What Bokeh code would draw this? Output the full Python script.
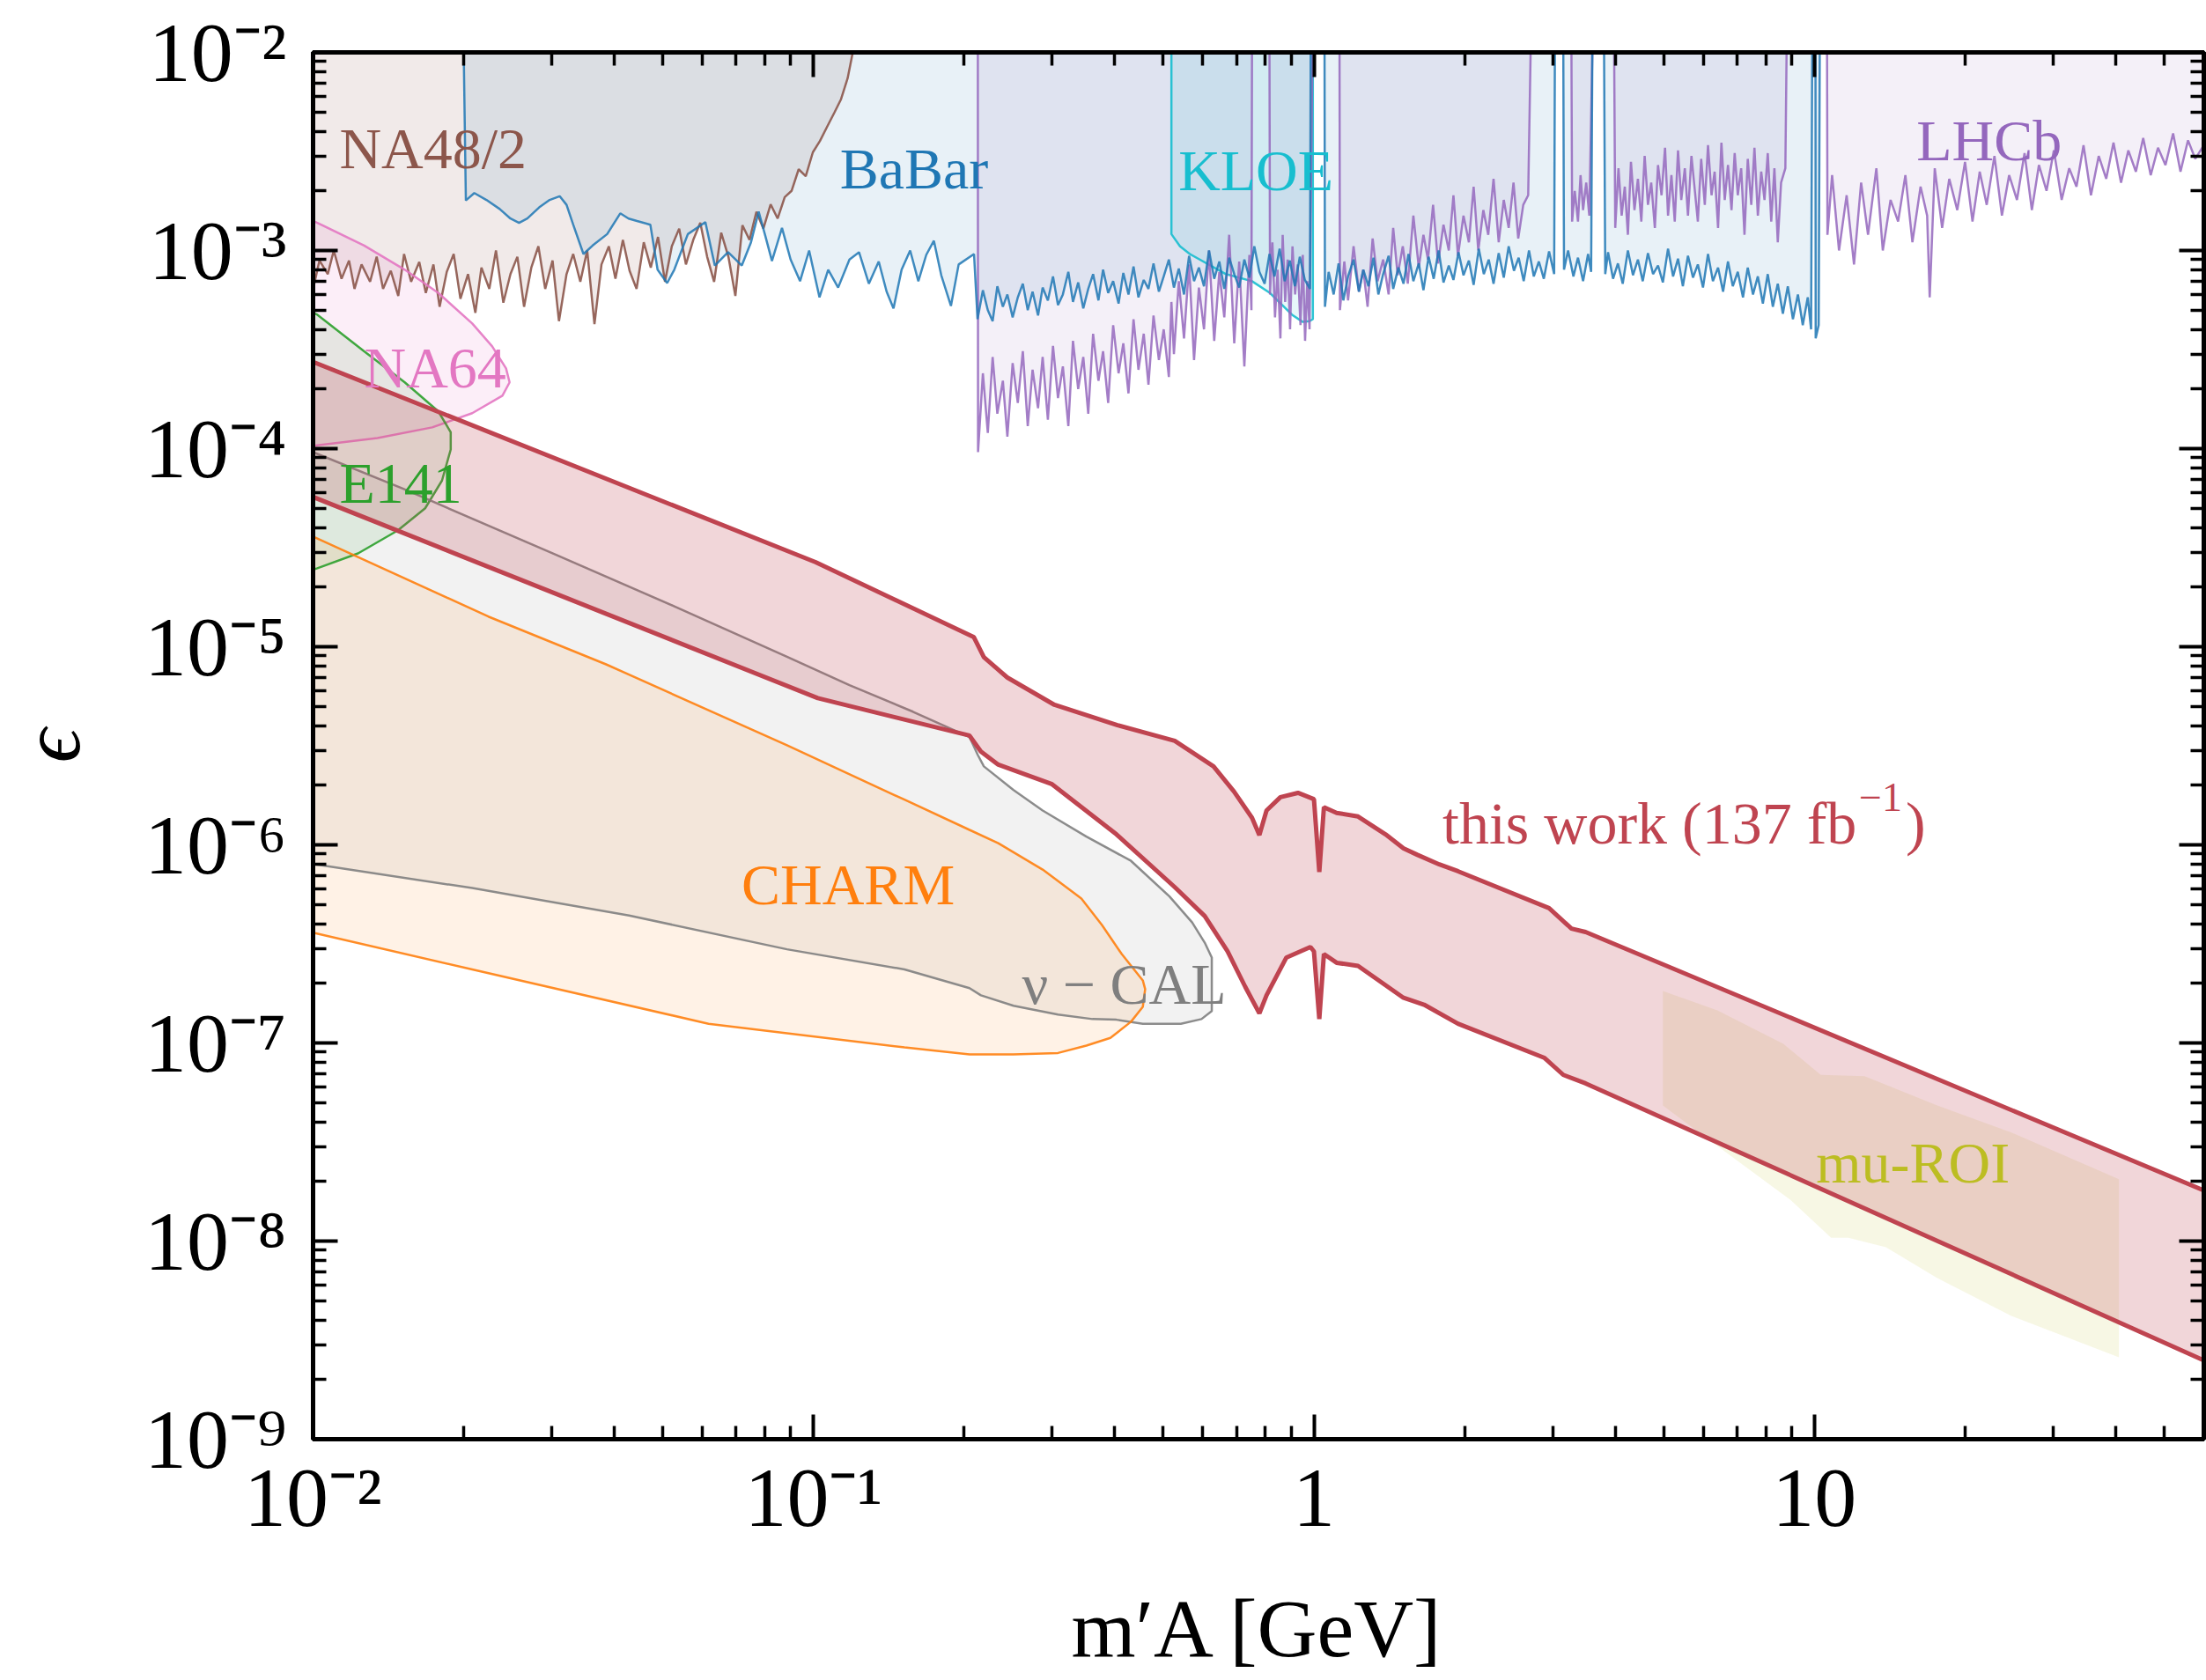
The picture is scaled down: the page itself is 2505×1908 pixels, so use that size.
from bokeh.plotting import figure
from bokeh.models import Range1d, LogAxis, FixedTicker, Label, CustomJSTickFormatter
from bokeh.embed import file_html
from bokeh.resources import INLINE

# ---------------- axis limits & ticks ----------------
X_MIN, X_MAX = 0.01, 60.0
EPS_MIN, EPS_MAX = 1e-9, 1e-2

x_tick_vals = [0.01, 0.1, 1, 10]
x_tick_labels = ["10⁻²", "10⁻¹", "1", "10"]
y_tick_vals = [1e-9, 1e-8, 1e-7, 1e-6, 1e-5, 1e-4, 1e-3, 1e-2]
y_tick_labels = ["10⁻⁹", "10⁻⁸", "10⁻⁷", "10⁻⁶", "10⁻⁵", "10⁻⁴", "10⁻³", "10⁻²"]
x_title = "m′A [GeV]"
y_title = "ϵ"

# ---------------- data (m_A' in GeV, epsilon) ----------------
na48_m = [0.0100, 0.0103, 0.0107, 0.0110, 0.0114, 0.0118, 0.0121, 0.0125, 0.0130, 0.0134,
          0.0138, 0.0143, 0.0148, 0.0152, 0.0157, 0.0163, 0.0168, 0.0174, 0.0179, 0.0185,
          0.0191, 0.0197, 0.0204, 0.0211, 0.0217, 0.0225, 0.0232, 0.0240, 0.0248, 0.0256,
          0.0264, 0.0273, 0.0282, 0.0291, 0.0301, 0.0310, 0.0321, 0.0331, 0.0342, 0.0353,
          0.0365, 0.0377, 0.0390, 0.0402, 0.0416, 0.0429, 0.0443, 0.0458, 0.0473, 0.0489,
          0.0505, 0.0521, 0.0539, 0.0556, 0.0575, 0.0594, 0.0613, 0.0633, 0.0654, 0.0676,
          0.0698, 0.0721, 0.0745, 0.0769, 0.0794, 0.0821, 0.0848, 0.0876, 0.0904, 0.0934,
          0.0965, 0.0997, 0.103, 0.1064, 0.110, 0.1135, 0.117, 0.1198]
na48_eps = [6.4e-4, 8.9e-4, 7.6e-4, 1.0e-3, 7.2e-4, 8.9e-4, 6.4e-4, 8.5e-4, 6.95e-4, 9.3e-4,
            6.4e-4, 7.9e-4, 5.9e-4, 9.6e-4, 6.95e-4, 8.75e-4, 6.1e-4, 8.5e-4, 5.2e-4, 7.8e-4,
            9.6e-4, 5.7e-4, 7.6e-4, 4.85e-4, 8.2e-4, 6.4e-4, 1.0e-3, 5.45e-4, 7.6e-4, 9.3e-4,
            5.2e-4, 8.2e-4, 1.05e-3, 6.4e-4, 8.9e-4, 4.4e-4, 7.6e-4, 9.6e-4, 6.95e-4, 1.0e-3,
            4.25e-4, 8.5e-4, 1.05e-3, 7.2e-4, 1.13e-3, 7.9e-4, 6.4e-4, 1.1e-3, 8.2e-4, 1.17e-3,
            6.95e-4, 1.05e-3, 1.29e-3, 8.5e-4, 1.13e-3, 1.38e-3, 9.3e-4, 6.95e-4, 1.23e-3, 9.3e-4,
            5.9e-4, 1.34e-3, 1.13e-3, 1.57e-3, 1.29e-3, 1.71e-3, 1.45e-3, 1.86e-3, 2.0e-3, 2.57e-3,
            2.37e-3, 3.13e-3, 3.57e-3, 4.2e-3, 4.95e-3, 5.8e-3, 7.4e-3, 1.0e-2]

# BaBar: low-mass part, then four pieces separated by resonance vetoes (curve to top)
babar_m_low = [0.0200, 0.0202, 0.0210, 0.0222, 0.0236, 0.0248, 0.0258, 0.0268, 0.0283, 0.0297,
               0.0311, 0.0321, 0.0331, 0.0347, 0.0362, 0.0387, 0.0411, 0.0427, 0.0444, 0.0472,
               0.0488, 0.0510, 0.0527, 0.0561, 0.0608, 0.0635, 0.0675, 0.0719, 0.0750, 0.0777,
               0.0800, 0.0826, 0.0865, 0.0900, 0.0940, 0.0980, 0.1028, 0.1070, 0.1120, 0.1180,
               0.1233, 0.1290, 0.1350, 0.1400, 0.1445, 0.1500, 0.1560, 0.1620, 0.1680, 0.1740,
               0.1800, 0.1882, 0.1950, 0.2093, 0.2127]
babar_eps_low = [1e-2, 1.79e-3, 1.95e-3, 1.80e-3, 1.62e-3, 1.45e-3, 1.38e-3, 1.45e-3, 1.65e-3, 1.80e-3,
                 1.88e-3, 1.70e-3, 1.35e-3, 9.6e-4, 1.06e-3, 1.21e-3, 1.54e-3, 1.45e-3, 1.41e-3, 1.35e-3,
                 8.0e-4, 6.85e-4, 8.0e-4, 1.21e-3, 1.39e-3, 8.4e-4, 9.8e-4, 8.4e-4, 1.1e-3, 1.57e-3,
                 1.2e-3, 8.85e-4, 1.3e-3, 9.0e-4, 7.0e-4, 1.0e-3, 5.8e-4, 8.0e-4, 6.5e-4, 9.0e-4,
                 9.8e-4, 6.8e-4, 8.8e-4, 6.2e-4, 5.1e-4, 8.0e-4, 1.0e-3, 7.0e-4, 9.5e-4, 1.12e-3,
                 7.5e-4, 5.25e-4, 8.5e-4, 9.6e-4, 4.5e-4]
babar_m_a = [0.218, 0.223, 0.228, 0.233, 0.239, 0.244, 0.250, 0.256, 0.262, 0.268,
             0.274, 0.281, 0.287, 0.294, 0.301, 0.308, 0.315, 0.323, 0.330, 0.338,
             0.346, 0.354, 0.362, 0.371, 0.379, 0.388, 0.397, 0.407, 0.416, 0.426,
             0.436, 0.446, 0.457, 0.467, 0.478, 0.490, 0.501, 0.513, 0.525, 0.537,
             0.550, 0.563, 0.576, 0.589, 0.603, 0.617, 0.632, 0.647, 0.662, 0.677,
             0.693, 0.709, 0.726, 0.743, 0.760, 0.778, 0.797, 0.815, 0.834, 0.854,
             0.874, 0.895, 0.916, 0.937, 0.959, 0.982]
babar_eps_a = [6.3e-4, 5.0e-4, 4.4e-4, 6.6e-4, 5.2e-4, 6.0e-4, 4.6e-4, 5.8e-4, 6.8e-4, 5.0e-4,
               6.2e-4, 4.7e-4, 6.5e-4, 5.6e-4, 7.4e-4, 5.3e-4, 6.0e-4, 7.8e-4, 5.5e-4, 6.9e-4,
               5.1e-4, 6.4e-4, 7.6e-4, 5.6e-4, 8.0e-4, 6.1e-4, 7.0e-4, 5.4e-4, 7.7e-4, 6.0e-4,
               8.3e-4, 5.8e-4, 7.1e-4, 6.4e-4, 8.6e-4, 6.2e-4, 7.4e-4, 9.0e-4, 6.5e-4, 8.1e-4,
               6.0e-4, 9.4e-4, 7.0e-4, 8.2e-4, 6.6e-4, 1.0e-3, 7.2e-4, 8.8e-4, 6.4e-4, 9.2e-4,
               7.6e-4, 6.5e-4, 9.0e-4, 7.3e-4, 1.05e-3, 7.8e-4, 6.8e-4, 9.6e-4, 7.4e-4, 1.02e-3,
               7.0e-4, 8.9e-4, 6.6e-4, 9.3e-4, 7.1e-4, 6.4e-4]
babar_m_veto1 = [0.985, 1.05, 1.052]
babar_eps_veto1 = [1e-2, 1e-2, 5.2e-4]
babar_m_b = [1.07, 1.095, 1.12, 1.145, 1.17, 1.20, 1.23, 1.255, 1.285, 1.315,
             1.345, 1.375, 1.41, 1.44, 1.475, 1.51, 1.545, 1.58, 1.62, 1.655,
             1.695, 1.735, 1.775, 1.815, 1.86, 1.90, 1.945, 1.99, 2.04, 2.085,
             2.135, 2.185, 2.235, 2.285, 2.34, 2.395, 2.45, 2.51, 2.565, 2.625,
             2.69, 2.75, 2.815, 2.88, 2.95, 3.02]
babar_eps_b = [7.8e-4, 6.0e-4, 8.6e-4, 5.6e-4, 7.4e-4, 9.0e-4, 6.2e-4, 8.0e-4, 6.6e-4, 9.2e-4,
               6.0e-4, 7.6e-4, 9.4e-4, 6.4e-4, 8.2e-4, 6.8e-4, 9.6e-4, 7.0e-4, 8.6e-4, 6.3e-4,
               9.3e-4, 7.2e-4, 1.0e-3, 6.9e-4, 8.4e-4, 7.1e-4, 9.8e-4, 7.5e-4, 8.9e-4, 6.7e-4,
               1.02e-3, 7.6e-4, 9.0e-4, 6.8e-4, 9.7e-4, 7.3e-4, 1.05e-3, 7.9e-4, 9.2e-4, 7.0e-4,
               1.0e-3, 7.4e-4, 8.8e-4, 7.2e-4, 9.9e-4, 7.6e-4]
babar_m_veto2 = [3.03, 3.15, 3.16]
babar_eps_veto2 = [1e-2, 1e-2, 8.0e-4]
babar_m_c = [3.22, 3.30, 3.37, 3.45, 3.53, 3.58]
babar_eps_c = [1.0e-3, 7.4e-4, 9.2e-4, 7.0e-4, 9.6e-4, 7.8e-4]
babar_m_veto3 = [3.60, 3.80, 3.82]
babar_eps_veto3 = [1e-2, 1e-2, 7.6e-4]
babar_m_d = [3.87, 3.96, 4.05, 4.14, 4.24, 4.34, 4.44, 4.54, 4.65, 4.76,
             4.87, 4.98, 5.10, 5.22, 5.34, 5.46, 5.59, 5.72, 5.85, 5.99,
             6.13, 6.27, 6.42, 6.57, 6.72, 6.87, 7.03, 7.20, 7.36, 7.54,
             7.71, 7.89, 8.07, 8.26, 8.45, 8.65, 8.85, 9.06, 9.27, 9.48,
             9.70, 9.85]
babar_eps_d = [9.8e-4, 7.2e-4, 8.6e-4, 6.8e-4, 1.0e-3, 7.5e-4, 9.0e-4, 7.0e-4, 9.7e-4, 7.6e-4,
               8.4e-4, 6.9e-4, 1.02e-3, 7.4e-4, 9.1e-4, 6.6e-4, 9.4e-4, 7.3e-4, 8.5e-4, 6.5e-4,
               9.6e-4, 7.0e-4, 8.2e-4, 6.2e-4, 8.8e-4, 6.6e-4, 7.8e-4, 5.8e-4, 8.2e-4, 6.0e-4,
               7.4e-4, 5.4e-4, 7.6e-4, 5.2e-4, 6.8e-4, 4.8e-4, 6.6e-4, 4.5e-4, 6.0e-4, 4.2e-4,
               5.8e-4, 4.0e-4]
babar_m_end = [9.90, 10.05, 10.06, 10.2, 10.25]
babar_eps_end = [1e-2, 1e-2, 3.6e-4, 4.2e-4, 1e-2]

# LHCb: pieces separated by vetoes (curve to top)
lhcb_m_start = [0.213, 0.2132]
lhcb_eps_start = [1e-2, 9.6e-5]
lhcb_m_a = [0.218, 0.223, 0.228, 0.233, 0.239, 0.244, 0.250, 0.256, 0.262, 0.268,
            0.274, 0.281, 0.287, 0.294, 0.301, 0.308, 0.315, 0.323, 0.330, 0.338,
            0.346, 0.354, 0.362, 0.371, 0.379, 0.388, 0.397, 0.407, 0.416, 0.426,
            0.436, 0.446, 0.457, 0.467, 0.478, 0.490, 0.501, 0.513, 0.519, 0.525,
            0.537, 0.550, 0.563, 0.576, 0.589, 0.603, 0.617, 0.632, 0.647, 0.662,
            0.677, 0.693, 0.709, 0.726, 0.743, 0.750]
lhcb_eps_a = [2.4e-4, 1.2e-4, 2.9e-4, 1.5e-4, 2.2e-4, 1.15e-4, 2.7e-4, 1.7e-4, 3.1e-4, 1.3e-4,
              2.5e-4, 1.6e-4, 2.9e-4, 1.4e-4, 3.3e-4, 1.8e-4, 2.6e-4, 1.3e-4, 3.5e-4, 2.0e-4,
              2.9e-4, 1.5e-4, 3.8e-4, 2.2e-4, 3.1e-4, 1.7e-4, 4.2e-4, 2.4e-4, 3.4e-4, 1.9e-4,
              4.5e-4, 2.5e-4, 3.8e-4, 2.1e-4, 4.7e-4, 2.8e-4, 4.0e-4, 2.3e-4, 5.5e-4, 3.0e-4,
              7.0e-4, 3.6e-4, 8.5e-4, 2.8e-4, 6.5e-4, 4.0e-4, 1.0e-3, 3.5e-4, 7.8e-4, 4.6e-4,
              1.2e-3, 3.4e-4, 8.8e-4, 2.6e-4, 9.5e-4, 5.0e-4]
lhcb_m_veto1 = [0.752, 0.815, 0.817]
lhcb_eps_veto1 = [1e-2, 1e-2, 6.0e-4]
lhcb_m_b = [0.826, 0.836, 0.846, 0.857, 0.866, 0.876, 0.886, 0.896, 0.906, 0.917,
            0.928, 0.94, 0.95, 0.96, 0.97, 0.98]
lhcb_eps_b = [1.1e-3, 4.6e-4, 8.0e-4, 3.6e-4, 1.2e-3, 5.5e-4, 9.0e-4, 4.0e-4, 1.05e-3, 6.0e-4,
              8.5e-4, 4.2e-4, 9.5e-4, 3.5e-4, 7.0e-4, 4.0e-4]
lhcb_m_veto2 = [0.993, 1.125, 1.127]
lhcb_eps_veto2 = [1e-2, 1e-2, 5.0e-4]
lhcb_m_c = [1.15, 1.17, 1.20, 1.23, 1.255, 1.28, 1.31, 1.34, 1.375, 1.41,
            1.44, 1.47, 1.505, 1.54, 1.58, 1.62, 1.655, 1.69, 1.73, 1.77,
            1.815, 1.86, 1.90, 1.94, 1.99, 2.04, 2.085, 2.13, 2.18, 2.23,
            2.285, 2.34, 2.395, 2.45, 2.505, 2.56, 2.62, 2.68]
lhcb_eps_c = [8.8e-4, 5.6e-4, 1.05e-3, 6.2e-4, 8.0e-4, 5.2e-4, 1.15e-3, 7.0e-4, 9.0e-4, 6.0e-4,
              1.3e-3, 7.5e-4, 1.05e-3, 6.8e-4, 1.5e-3, 8.2e-4, 1.2e-3, 9.0e-4, 1.7e-3, 8.6e-4,
              1.35e-3, 1.0e-3, 1.9e-3, 9.4e-4, 1.5e-3, 1.1e-3, 2.1e-3, 1.0e-3, 1.6e-3, 1.2e-3,
              2.3e-3, 1.1e-3, 1.8e-3, 1.3e-3, 2.2e-3, 1.15e-3, 1.7e-3, 1.9e-3]
lhcb_m_veto3 = [2.71, 3.27, 3.28]
lhcb_eps_veto3 = [1e-2, 1e-2, 1.4e-3]
lhcb_m_d = [3.32, 3.37, 3.41, 3.45, 3.50, 3.55]
lhcb_eps_d = [2.0e-3, 1.4e-3, 2.4e-3, 1.6e-3, 2.2e-3, 1.5e-3]
lhcb_m_veto4 = [3.60, 3.98, 4.00]
lhcb_eps_veto4 = [1e-2, 1e-2, 1.3e-3]
lhcb_m_e = [4.06, 4.12, 4.18, 4.24, 4.30, 4.37, 4.44, 4.51, 4.58, 4.65,
            4.72, 4.80, 4.87, 4.95, 5.03, 5.10, 5.18, 5.26, 5.34, 5.42,
            5.51, 5.59, 5.68, 5.77, 5.85, 5.94, 6.04, 6.13, 6.23, 6.32,
            6.42, 6.52, 6.62, 6.72, 6.83, 6.93, 7.03, 7.14, 7.25, 7.36,
            7.48, 7.59, 7.71, 7.83, 7.95, 8.07, 8.20, 8.32, 8.45, 8.58,
            8.75]
lhcb_eps_e = [2.6e-3, 1.5e-3, 2.1e-3, 1.2e-3, 2.8e-3, 1.6e-3, 2.3e-3, 1.4e-3, 3.0e-3, 1.7e-3,
              2.2e-3, 1.3e-3, 2.7e-3, 1.9e-3, 3.3e-3, 1.5e-3, 2.4e-3, 1.4e-3, 3.2e-3, 1.8e-3,
              2.6e-3, 1.5e-3, 3.0e-3, 2.0e-3, 1.4e-3, 2.9e-3, 1.7e-3, 3.4e-3, 1.9e-3, 2.5e-3,
              1.3e-3, 3.5e-3, 1.8e-3, 2.7e-3, 1.6e-3, 3.1e-3, 1.9e-3, 2.6e-3, 1.2e-3, 2.9e-3,
              1.7e-3, 3.3e-3, 1.5e-3, 2.5e-3, 1.8e-3, 3.1e-3, 1.4e-3, 2.6e-3, 1.1e-3, 2.2e-3,
              2.6e-3]
lhcb_m_veto5 = [8.80, 10.6, 10.62]
lhcb_eps_veto5 = [1e-2, 1e-2, 1.2e-3]
lhcb_m_f = [10.85, 11.2, 11.6, 12.0, 12.4, 12.8, 13.3, 13.7, 14.2, 14.7,
            15.2, 15.7, 16.3, 16.8, 17.0, 17.4, 18.0, 18.6, 19.3, 20.0,
            20.7, 21.4, 22.1, 22.9, 23.7, 24.5, 25.4, 26.3, 27.2, 28.1,
            29.1, 30.1, 31.2, 32.3, 33.4, 34.5, 35.7, 37.0, 38.3, 39.6,
            41.0, 42.4, 43.9, 45.4, 47.0, 48.6, 50.3, 52.1, 53.9, 55.8,
            57.7, 60.0]
lhcb_eps_f = [2.4e-3, 1.0e-3, 1.9e-3, 8.5e-4, 2.2e-3, 1.2e-3, 2.6e-3, 1.0e-3, 1.8e-3, 1.4e-3,
              2.4e-3, 1.1e-3, 2.1e-3, 1.5e-3, 5.8e-4, 2.6e-3, 1.3e-3, 2.3e-3, 1.6e-3, 2.8e-3,
              1.4e-3, 2.5e-3, 1.7e-3, 3.0e-3, 1.5e-3, 2.4e-3, 1.8e-3, 3.1e-3, 1.6e-3, 2.7e-3,
              2.0e-3, 3.2e-3, 1.8e-3, 2.6e-3, 2.1e-3, 3.4e-3, 1.9e-3, 3.0e-3, 2.3e-3, 3.5e-3,
              2.2e-3, 3.2e-3, 2.5e-3, 3.7e-3, 2.4e-3, 3.3e-3, 2.7e-3, 3.9e-3, 2.5e-3, 3.6e-3,
              2.9e-3, 3.4e-3]

kloe_m = [0.519, 0.519, 0.540, 0.565, 0.667, 0.752, 0.817, 0.904, 0.95, 0.98, 0.995, 0.995]
kloe_eps = [1e-2, 1.21e-3, 1.05e-3, 9.6e-4, 7.6e-4, 7.0e-4, 6.1e-4, 4.74e-4, 4.36e-4, 4.4e-4, 4.5e-4, 1e-2]

na64_m = [0.0100, 0.0102, 0.01265, 0.01525, 0.0178, 0.0208, 0.0228, 0.0243, 0.0247, 0.0239,
          0.0208, 0.0173, 0.01345, 0.0102, 0.0100]
na64_eps = [1.41e-3, 1.38e-3, 1.06e-3, 8.0e-4, 6.1e-4, 4.28e-4, 3.28e-4, 2.54e-4, 2.16e-4, 1.85e-4,
            1.51e-4, 1.28e-4, 1.13e-4, 1.04e-4, 1.03e-4]

e141_m = [0.0100, 0.0102, 0.01265, 0.01525, 0.0178, 0.01884, 0.01884, 0.0181, 0.01675, 0.01476,
          0.0123, 0.0102, 0.0100]
e141_eps = [4.85e-4, 4.74e-4, 3.1e-4, 2.16e-4, 1.54e-4, 1.21e-4, 9.9e-5, 6.9e-5, 5.0e-5, 3.86e-5,
            2.96e-5, 2.49e-5, 2.45e-5]

nucal_m = [0.0100, 0.0153, 0.0301, 0.0527, 0.0885, 0.118, 0.158, 0.205, 0.213, 0.219,
           0.251, 0.287, 0.351, 0.431, 0.514, 0.571, 0.605, 0.625, 0.625, 0.596,
           0.542, 0.455, 0.403, 0.361, 0.308, 0.251, 0.216, 0.205, 0.152, 0.0885,
           0.0428, 0.0208, 0.0100]
nucal_eps = [9.6e-5, 6.2e-5, 2.96e-5, 1.6e-5, 8.9e-6, 6.4e-6, 4.7e-6, 3.5e-6, 2.84e-6, 2.49e-6,
             1.89e-6, 1.49e-6, 1.1e-6, 8.3e-7, 5.5e-7, 4.06e-7, 3.21e-7, 2.7e-7, 1.45e-7, 1.32e-7,
             1.25e-7, 1.25e-7, 1.31e-7, 1.32e-7, 1.39e-7, 1.54e-7, 1.74e-7, 1.89e-7, 2.35e-7, 2.97e-7,
             4.4e-7, 6.05e-7, 8.0e-7]

charm_m = [0.0100, 0.0224, 0.0385, 0.0885, 0.152, 0.205, 0.234, 0.287, 0.343, 0.377,
           0.413, 0.455, 0.460, 0.455, 0.431, 0.392, 0.351, 0.308, 0.251, 0.205,
           0.152, 0.0617, 0.0208, 0.0100]
charm_eps = [3.6e-5, 1.42e-5, 8.15e-6, 3.18e-6, 1.69e-6, 1.19e-6, 1.02e-6, 7.5e-7, 5.36e-7, 3.94e-7,
             2.81e-7, 2.07e-7, 1.87e-7, 1.52e-7, 1.28e-7, 1.06e-7, 9.7e-8, 8.9e-8, 8.75e-8, 8.75e-8,
             9.5e-8, 1.25e-7, 2.35e-7, 3.6e-7]

muroi_m = [4.98, 6.4, 8.67, 10.3, 12.6, 17.6, 24.7, 40.6, 40.6, 24.7,
           17.6, 13.9, 11.7, 10.8, 8.97, 6.4, 4.98]
muroi_eps = [1.83e-7, 1.46e-7, 9.9e-8, 6.9e-8, 6.8e-8, 4.83e-8, 3.54e-8, 2.05e-8, 2.59e-9, 4.2e-9,
             6.5e-9, 9.3e-9, 1.04e-8, 1.04e-8, 1.61e-8, 3.02e-8, 4.83e-8]

work_upper_m = [0.01, 0.101, 0.209, 0.219, 0.244, 0.303, 0.405, 0.527, 0.63, 0.692,
                0.752, 0.778, 0.804, 0.857, 0.929, 1.0, 1.025, 1.047, 1.11, 1.225,
                1.39, 1.51, 1.61, 1.78, 1.94, 2.95, 3.27, 3.49, 60.0]
work_upper_eps = [2.74e-4, 2.67e-5, 1.12e-5, 8.85e-6, 6.99e-6, 5.09e-6, 4.02e-6, 3.35e-6, 2.49e-6, 1.86e-6,
                  1.37e-6, 1.12e-6, 1.49e-6, 1.74e-6, 1.83e-6, 1.70e-6, 7.3e-7, 1.55e-6, 1.45e-6, 1.39e-6,
                  1.13e-6, 9.6e-7, 8.9e-7, 7.97e-7, 7.36e-7, 4.79e-7, 3.78e-7, 3.63e-7, 1.8e-8]
work_lower_m = [0.01, 0.102, 0.205, 0.216, 0.234, 0.299, 0.403, 0.527, 0.605, 0.672,
                0.729, 0.778, 0.804, 0.881, 0.984, 1.0, 1.025, 1.047, 1.11, 1.225,
                1.51, 1.66, 1.94, 2.89, 3.15, 3.49, 60.0]
work_lower_eps = [5.7e-5, 5.5e-6, 3.56e-6, 2.96e-6, 2.54e-6, 2.03e-6, 1.13e-6, 6.12e-7, 4.37e-7, 2.9e-7,
                  1.92e-7, 1.41e-7, 1.74e-7, 2.7e-7, 3.05e-7, 2.9e-7, 1.32e-7, 2.81e-7, 2.54e-7, 2.45e-7,
                  1.69e-7, 1.56e-7, 1.25e-7, 8.4e-8, 6.9e-8, 6.25e-8, 2.5e-9]

babar_m = (babar_m_low + babar_m_a + babar_m_veto1 + babar_m_b + babar_m_veto2 + babar_m_c
           + babar_m_veto3 + babar_m_d + babar_m_end)
babar_eps = (babar_eps_low + babar_eps_a + babar_eps_veto1 + babar_eps_b + babar_eps_veto2 + babar_eps_c
             + babar_eps_veto3 + babar_eps_d + babar_eps_end)
lhcb_m = (lhcb_m_start + lhcb_m_a + lhcb_m_veto1 + lhcb_m_b + lhcb_m_veto2 + lhcb_m_c + lhcb_m_veto3
          + lhcb_m_d + lhcb_m_veto4 + lhcb_m_e + lhcb_m_veto5 + lhcb_m_f)
lhcb_eps = (lhcb_eps_start + lhcb_eps_a + lhcb_eps_veto1 + lhcb_eps_b + lhcb_eps_veto2 + lhcb_eps_c
            + lhcb_eps_veto3 + lhcb_eps_d + lhcb_eps_veto4 + lhcb_eps_e + lhcb_eps_veto5 + lhcb_eps_f)

for a, b in [(na48_m, na48_eps), (babar_m_low, babar_eps_low), (babar_m_a, babar_eps_a),
             (babar_m_b, babar_eps_b), (babar_m_d, babar_eps_d), (lhcb_m_a, lhcb_eps_a),
             (lhcb_m_b, lhcb_eps_b), (lhcb_m_c, lhcb_eps_c), (lhcb_m_e, lhcb_eps_e),
             (lhcb_m_f, lhcb_eps_f), (babar_m, babar_eps), (lhcb_m, lhcb_eps), (kloe_m, kloe_eps),
             (na64_m, na64_eps), (e141_m, e141_eps), (nucal_m, nucal_eps), (charm_m, charm_eps),
             (muroi_m, muroi_eps), (work_upper_m, work_upper_eps), (work_lower_m, work_lower_eps)]:
    assert len(a) == len(b), (len(a), len(b))

# region labels: text, colour, m (left edge), eps (baseline)
region_labels = [
    ("NA48/2", "#8c564b", 0.01129, 3.28e-3),
    ("BaBar", "#1f77b4", 0.1129, 2.59e-3),
    ("KLOE", "#17becf", 0.536, 2.54e-3),
    ("LHCb", "#9467bd", 16.0, 3.6e-3),
    ("NA64", "#e377c2", 0.01265, 2.57e-4),
    ("E141", "#2ca02c", 0.01129, 6.71e-5),
    ("CHARM", "#ff7f0e", 0.0718, 6.31e-7),
    ("ν − CAL", "#7f7f7f", 0.261, 1.99e-7),
    ("mu-ROI", "#bcbd22", 10.08, 2.49e-8),
]

RED = "#bf4450"
SERIF = "Liberation Serif"

# ---------------- figure ----------------
p = figure(width=2505, height=1908, x_axis_type="log", y_axis_type="log",
           x_range=Range1d(X_MIN, X_MAX), y_range=Range1d(EPS_MIN, EPS_MAX),
           output_backend="svg", toolbar_location=None,
           min_border_left=355, min_border_right=3, min_border_top=59, min_border_bottom=274)
p.grid.visible = False
p.outline_line_color = "black"
p.outline_line_width = 5
p.background_fill_color = "white"
p.border_fill_color = "white"

x_minor = [m * 10.0 ** e for e in range(-2, 2) for m in range(2, 10) if m * 10.0 ** e < X_MAX]
y_minor = [m * 10.0 ** e for e in range(-9, -2) for m in range(2, 10)]

LABEL_JS = """
let best = 0;
for (let i = 0; i < vals.length; i++) {
  if (Math.abs(Math.log10(tick) - Math.log10(vals[i])) <
      Math.abs(Math.log10(tick) - Math.log10(vals[best]))) { best = i; }
}
return labs[best];
"""


def style_axis(ax, ticks, minor, labels=None):
    ax.ticker = FixedTicker(ticks=ticks, minor_ticks=minor)
    ax.major_tick_in = 28
    ax.major_tick_out = 0
    ax.minor_tick_in = 15
    ax.minor_tick_out = 0
    ax.major_tick_line_width = 4
    ax.minor_tick_line_width = 3.5
    ax.major_tick_line_color = "black"
    ax.minor_tick_line_color = "black"
    ax.axis_line_width = 5
    ax.axis_line_color = "black"
    if labels is None:
        ax.major_label_text_font_size = "1px"
        ax.major_label_text_alpha = 0
        ax.major_label_standoff = 0
    else:
        ax.formatter = CustomJSTickFormatter(args=dict(vals=ticks, labs=labels), code=LABEL_JS)
        ax.major_label_text_font = SERIF
        ax.major_label_text_font_size = "96px"
        ax.major_label_text_color = "black"
        ax.axis_label_text_font = SERIF
        ax.axis_label_text_color = "black"
        ax.axis_label_text_font_style = "normal"


style_axis(p.xaxis[0], x_tick_vals, x_minor, x_tick_labels)
style_axis(p.yaxis[0], y_tick_vals, y_minor, y_tick_labels)
p.xaxis[0].major_label_standoff = 12
p.xaxis[0].axis_label = x_title
p.xaxis[0].axis_label_text_font_size = "94px"
p.xaxis[0].axis_label_standoff = 40
p.yaxis[0].major_label_standoff = 30
p.yaxis[0].axis_label = y_title
p.yaxis[0].axis_label_text_font_size = "96px"
p.yaxis[0].axis_label_text_font_style = "italic"
p.yaxis[0].axis_label_standoff = 50

top_ax = LogAxis()
right_ax = LogAxis()
style_axis(top_ax, x_tick_vals, x_minor)
style_axis(right_ax, y_tick_vals, y_minor)
p.add_layout(top_ax, "above")
p.add_layout(right_ax, "right")


def above_curve(xs, ys):
    return xs + [xs[-1], xs[0]], ys + [EPS_MAX, EPS_MAX]


# regions bounded by the top of the frame
for xs, ys, col, fa in [(na48_m, na48_eps, "#8c564b", 0.12),
                        (babar_m, babar_eps, "#1f77b4", 0.10),
                        (lhcb_m, lhcb_eps, "#9467bd", 0.10),
                        (kloe_m, kloe_eps, "#17becf", 0.10)]:
    px, py = above_curve(xs, ys)
    p.patch(px, py, fill_color=col, fill_alpha=fa, line_alpha=0)

# closed contours
for xs, ys, col, fa in [(na64_m, na64_eps, "#e377c2", 0.12),
                        (e141_m, e141_eps, "#2ca02c", 0.10),
                        (nucal_m, nucal_eps, "#7f7f7f", 0.10),
                        (charm_m, charm_eps, "#ff7f0e", 0.10),
                        (muroi_m, muroi_eps, "#bcbd22", 0.12)]:
    p.patch(xs, ys, fill_color=col, fill_alpha=fa, line_alpha=0)

# outlines
p.line(kloe_m, kloe_eps, line_color="#17becf", line_width=2.5, line_alpha=0.9)
p.line(na48_m, na48_eps, line_color="#8c564b", line_width=2.5, line_alpha=0.9)
p.line(lhcb_m, lhcb_eps, line_color="#9467bd", line_width=2.5, line_alpha=0.85)
p.line(babar_m, babar_eps, line_color="#1f77b4", line_width=2.5, line_alpha=0.85)
p.line(na64_m, na64_eps, line_color="#e377c2", line_width=2.5, line_alpha=0.9)
p.line(e141_m, e141_eps, line_color="#2ca02c", line_width=2.5, line_alpha=0.9)
p.line(nucal_m, nucal_eps, line_color="#7f7f7f", line_width=2.5, line_alpha=0.9)
p.line(charm_m, charm_eps, line_color="#ff7f0e", line_width=2.5, line_alpha=0.9)

# this work band
band_x = work_upper_m + work_lower_m[::-1]
band_y = work_upper_eps + work_lower_eps[::-1]
p.patch(band_x, band_y, fill_color=RED, fill_alpha=0.22, line_alpha=0)
p.line(work_upper_m, work_upper_eps, line_color=RED, line_width=5)
p.line(work_lower_m, work_lower_eps, line_color=RED, line_width=5)

# region labels
for txt, col, xm, ye in region_labels:
    p.add_layout(Label(x=xm, y=ye, text=txt, text_color=col, text_font=SERIF,
                       text_font_size="66px", text_baseline="alphabetic", text_align="left"))

p.add_layout(Label(x=1.807, y=1.28e-6, text="this work (137 fb", text_color=RED, text_font=SERIF,
                   text_font_size="68px", text_baseline="alphabetic", text_align="left"))
p.add_layout(Label(x=1.807, y=1.28e-6, x_offset=473, y_offset=30, text="−1", text_color=RED,
                   text_font=SERIF, text_font_size="46px", text_baseline="alphabetic", text_align="left"))
p.add_layout(Label(x=1.807, y=1.28e-6, x_offset=526, text=")", text_color=RED, text_font=SERIF,
                   text_font_size="68px", text_baseline="alphabetic", text_align="left"))

open("out.html", "w").write(file_html(p, INLINE, title="dark photon limits"))
